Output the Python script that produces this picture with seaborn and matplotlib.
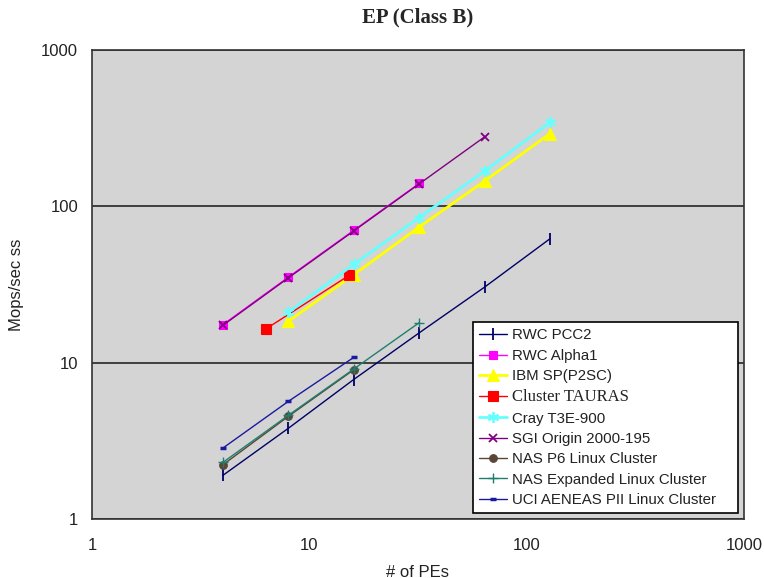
import numpy as np
import pandas as pd
import matplotlib
matplotlib.use('Agg')
import matplotlib.pyplot as plt
import seaborn as sns

# data (x = # of PEs, y = Mops/sec)
pcc2_x = [4, 8, 16, 32, 64, 128]
pcc2_y = [1.9, 3.8, 7.8, 15.5, 30.4, 62]

alpha1_x = [4, 8, 16, 32]
alpha1_y = [17.5, 35.2, 70.2, 140]

ibmsp_x = [8, 16, 32, 64, 128]
ibmsp_y = [18.4, 36.5, 73.7, 145, 292]

tauras_x = [6.3, 15.3]
tauras_y = [16.4, 36.3]

cray_x = [8, 16, 32, 64, 128]
cray_y = [21, 42.5, 84.7, 168, 344]

sgi_x = [4, 8, 16, 32, 64]
sgi_y = [17.3, 34.8, 69.5, 139, 278]

nasp6_x = [4, 8, 16]
nasp6_y = [2.22, 4.53, 9.0]

nasexp_x = [4, 8, 16, 32]
nasexp_y = [2.3, 4.6, 9.1, 18.0]

uci_x = [4, 8, 16]
uci_y = [2.84, 5.65, 10.8]

sns.set_style('white')
plt.rcParams['font.family'] = ['Liberation Sans', 'DejaVu Sans']

fig = plt.figure(figsize=(7.64, 5.78), dpi=100)
ax = fig.add_axes([0.1204, 0.1021, 0.8534, 0.8114])
ax.set_facecolor('#d4d4d4')

series = [
    ('RWC PCC2', pcc2_x, pcc2_y, '#000066', dict(marker='|', ms=8, mew=1.3, lw=1)),
    ('RWC Alpha1', alpha1_x, alpha1_y, '#ff00ff', dict(marker='s', ms=6, mew=0.8, lw=1)),
    ('IBM SP(P2SC)', ibmsp_x, ibmsp_y, '#ffff00', dict(marker='^', ms=8, mew=0.8, lw=2)),
    ('Cluster TAURAS', tauras_x, tauras_y, '#ff0000', dict(marker='s', ms=7, mew=0.8, lw=1)),
    ('Cray T3E-900', cray_x, cray_y, '#66ffff', dict(marker=(6, 2, 0), ms=8, mew=1.3, lw=2)),
    ('SGI Origin 2000-195', sgi_x, sgi_y, '#800080', dict(marker='x', ms=6, mew=1.3, lw=1)),
    ('NAS P6 Linux Cluster', nasp6_x, nasp6_y, '#5a4536', dict(marker='o', ms=5.5, mew=0.8, lw=1)),
    ('NAS Expanded Linux Cluster', nasexp_x, nasexp_y, '#1f7f6f', dict(marker='+', ms=7, mew=1, lw=1)),
    ('UCI AENEAS PII Linux Cluster', uci_x, uci_y, '#1a1aa0', dict(marker='_', ms=5, mew=2.5, lw=1)),
]

for name, xs, ys, col, kw in series:
    df = pd.DataFrame({'pes': xs, 'mops': ys})
    sns.lineplot(data=df, x='pes', y='mops', ax=ax, label=name, color=col,
                 markeredgecolor=col, markerfacecolor=col, **kw)

ax.set_xscale('log')
ax.set_yscale('log')
ax.set_xlim(1, 1000)
ax.set_ylim(1, 1000)
ax.set_xticks([1, 10, 100, 1000])
ax.set_xticklabels(['1', '10', '100', '1000'])
ax.set_yticks([1, 10, 100, 1000])
ax.set_yticklabels(['1', '10', '100', '1000'])
ax.minorticks_off()
ax.tick_params(axis='x', direction='in', length=5, width=1, color='black', pad=14, labelsize=12, labelcolor='#222222')
ax.tick_params(axis='y', length=0, pad=10, labelsize=12, labelcolor='#222222')
ax.yaxis.grid(True, color='#333333', lw=1.3)
ax.set_axisbelow(True)
for s in ax.spines.values():
    s.set_color('#333333')
    s.set_linewidth(1.2)

ax.set_xlabel('# of PEs', fontsize=12, color='#222222', labelpad=8)
ax.set_ylabel('Mops/sec ss', fontsize=12, color='#222222', labelpad=12)
ax.set_title('EP (Class B)', fontsize=15, fontweight='bold', family='Liberation Serif', pad=20)

leg = ax.legend(loc='lower left', bbox_to_anchor=(0.584, 0.013, 0.407, 0.45), mode='expand',
                fontsize=10.8, frameon=True, fancybox=False, edgecolor='black', facecolor='white',
                framealpha=1, handlelength=1.9, handletextpad=0.3, labelspacing=0.42,
                borderpad=0.4, borderaxespad=0)
leg.get_frame().set_linewidth(1.2)
for t in leg.get_texts():
    t.set_color('#222222')
leg.get_texts()[3].set_family('Liberation Serif')
leg.get_texts()[3].set_fontsize(12)

fig.savefig('out.png', dpi=100)
